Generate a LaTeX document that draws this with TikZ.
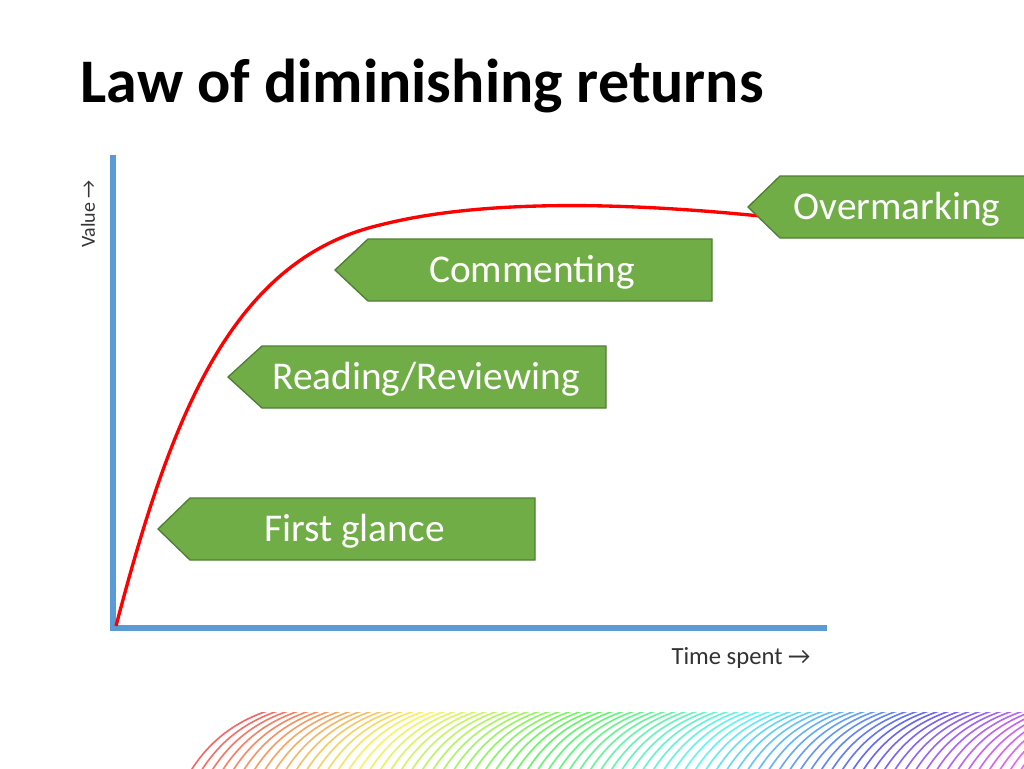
\documentclass[tikz,border=0pt]{standalone}
\usepackage{fontspec}
\setmainfont{Carlito}
\usetikzlibrary{positioning}
\definecolor{axisblue}{RGB}{91,155,213}
\definecolor{tagfill}{RGB}{112,173,71}
\definecolor{tagline}{RGB}{80,126,50}
\tikzset{
  axis/.style={axisblue,line width=4.5pt},
  tagtext/.style={text=white,font=\fontsize{29.5}{33}\selectfont},
  tagshape/.style={fill=tagfill,draw=tagline,line width=1pt},
}
% arrow-tag: name, tip x, body x, right x, top y, bottom y, text
\newcommand{\arrowtag}[7]{%
  \path[tagshape] (#2,{(#5+#6)/2}) -- (#3,#5) -- (#4,#5) -- (#4,#6) -- (#3,#6) -- cycle;
  \node[tagtext] (#1) at ({(#3+#4)/2-8},{(#5+#6)/2+2}) {#7};}
\begin{document}
\begin{tikzpicture}[x=0.75pt,y=-0.75pt]
\useasboundingbox[fill=white] (0,0) rectangle (1024,768);
% title
\node[anchor=west,font=\bfseries\fontsize{46.5}{52}\selectfont] (title) at (76,86) {Law of diminishing returns};
% rainbow strip
\begin{scope}
\clip (180,712) rectangle (1024,768);
\foreach \i in {0,...,80}{
  \pgfmathsetmacro{\hue}{mod(\i*0.0105,1)}
  \definecolor{stripc}{hsb}{\hue,0.85,0.95}
  \draw[stripc,line width=1.2pt,opacity=0.7] ({190+\i*10.5},772) .. controls ({210+\i*10.5},740) and ({240+\i*10.5},715) .. ({290+\i*10.5},705);
}
\end{scope}
% axes
\coordinate (origin) at (113,628);
\coordinate (ytop) at (113,155);
\coordinate (xend) at (827,628);
\draw[axis] (ytop) -- (origin) -- (xend);
\node[rotate=90,font=\fontsize{15}{17}\selectfont,text=black!80] (ylab) at (88,214) {Value →};
\node[font=\fontsize{18.5}{20}\selectfont,text=black!80] (xlab) at (741,658) {Time spent →};
% curve
\draw[red,line width=2.5pt] (116,626) .. controls (170,420) and (230,260) .. (380,225)
  .. controls (470,202) and (600,200) .. (760,216);
% tags
\arrowtag{glance}{158}{190}{535}{498}{560}{First glance}
\arrowtag{reading}{228}{262}{606}{346}{408}{Reading/Reviewing}
\arrowtag{comment}{335}{368}{712}{239}{301}{Commenting}
\arrowtag{over}{748}{780}{1030}{176}{238}{Overmarking}
\end{tikzpicture}
\end{document}
